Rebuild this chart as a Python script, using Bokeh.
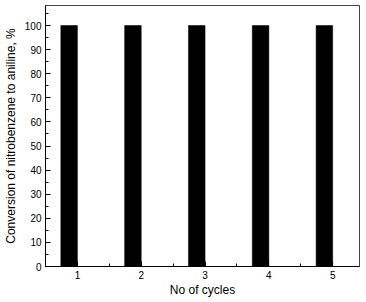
from bokeh.plotting import figure
from bokeh.models import FixedTicker, Range1d, ColumnDataSource
from bokeh.transform import dodge
from bokeh.embed import file_html
from bokeh.resources import INLINE

cycles = [1, 2, 3, 4, 5]
conversion = [100, 100, 100, 100, 100]
x_ticks = [1, 2, 3, 4, 5]
y_ticks = [0, 10, 20, 30, 40, 50, 60, 70, 80, 90, 100]

src = ColumnDataSource(data=dict(x=cycles, y=conversion))

p = figure(width=366, height=302, output_backend="svg", toolbar_location=None,
           x_range=Range1d(0.5, 5.42), y_range=Range1d(0, 108.3),
           min_border_left=42, min_border_right=7, min_border_top=5, min_border_bottom=36)

p.vbar(x=dodge('x', -0.13, range=p.x_range), top='y', width=0.26, source=src,
       fill_color="black", line_color="black", line_width=0.5)

font = "Liberation Sans"
for ax in (p.xaxis, p.yaxis):
    ax.major_tick_in = 5
    ax.major_tick_out = 0
    ax.minor_tick_in = 3
    ax.minor_tick_out = 0
    ax.major_label_text_font = font
    ax.major_label_text_font_size = "10px"
    ax.major_label_text_color = "black"
    ax.axis_label_text_font = font
    ax.axis_label_text_font_size = "12px"
    ax.axis_label_text_font_style = "normal"
    ax.axis_label_text_color = "black"
    ax.axis_line_color = "black"
    ax.major_tick_line_color = "black"
    ax.minor_tick_line_color = "black"

p.xaxis.ticker = FixedTicker(ticks=x_ticks, minor_ticks=[1.5, 2.5, 3.5, 4.5])
p.yaxis.ticker = FixedTicker(ticks=y_ticks, minor_ticks=[5, 15, 25, 35, 45, 55, 65, 75, 85, 95, 105])
p.xaxis.axis_label = "No of cycles"
p.yaxis.axis_label = "Conversion of nitrobenzene to aniline, %"
p.xaxis.major_label_standoff = 4
p.xaxis.axis_label_standoff = 1
p.yaxis.major_label_standoff = 4
p.yaxis.axis_label_standoff = 4

p.xgrid.visible = False
p.ygrid.visible = False
p.outline_line_color = "#444444"
p.outline_line_width = 1
p.background_fill_color = "white"
p.border_fill_color = "white"

open("out.html", "w").write(file_html(p, INLINE))
